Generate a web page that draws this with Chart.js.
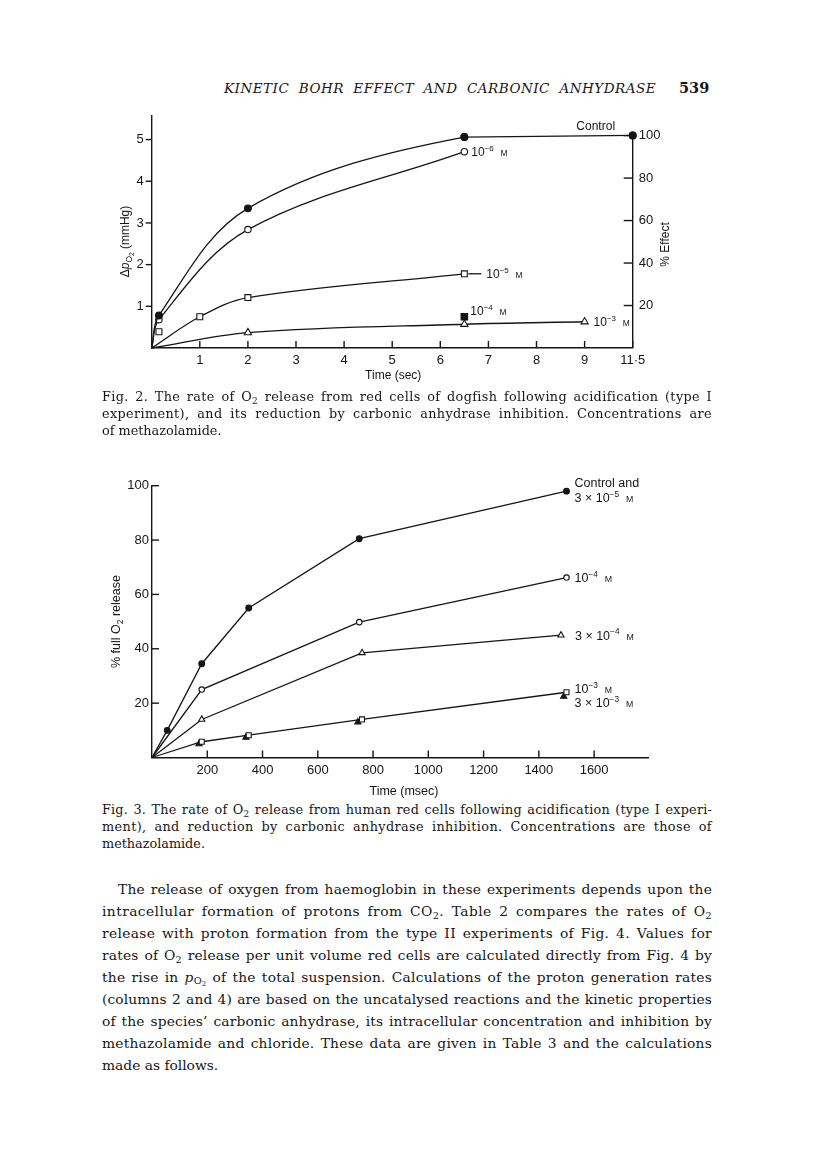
<!DOCTYPE html>
<html lang="en">
<head>
<meta charset="utf-8">
<title>Kinetic Bohr effect and carbonic anhydrase</title>
<script src="https://cdn.jsdelivr.net/npm/chart.js@4.4.1/dist/chart.umd.min.js"></script>
<style>
  html, body { margin: 0; padding: 0; background: #fff; }
  #page { position: relative; width: 816px; height: 1176px; overflow: hidden; background: #fff; color: #161616; font-family: 'DejaVu Serif', serif; }
  .ln { position: absolute; white-space: nowrap; }
  .cap { font-size: 12.8px; line-height: 16px; }
  .txt { font-size: 13.8px; line-height: 18px; }
  sub { font-size: 0.7em; line-height: 0; vertical-align: -0.28em; }
  .fig { position: absolute; }
</style>
</head>
<body>
<div id="page">
  <div class="ln" data-w="432" data-words="1" style="left:224px;top:79px;font-size:13.5px;line-height:18px;font-style:italic;letter-spacing:0.5px">KINETIC BOHR EFFECT AND CARBONIC ANHYDRASE</div>
  <div class="ln" style="left:679px;top:79px;font-size:14.5px;line-height:18px;font-weight:bold">539</div>

  <canvas class="fig" id="fig2" width="700" height="290" style="left:40px;top:100px"></canvas>

  <div class="ln cap" data-w="610" style="left:102px;top:388.5px">Fig. 2. The rate of O<sub>2</sub> release from red cells of dogfish following acidification (type I</div>
  <div class="ln cap" data-w="610" style="left:102px;top:405.5px">experiment), and its reduction by carbonic anhydrase inhibition. Concentrations are</div>
  <div class="ln cap" style="left:102px;top:422.5px">of methazolamide.</div>

  <canvas class="fig" id="fig3" width="700" height="330" style="left:40px;top:470px"></canvas>

  <div class="ln cap" data-w="610" style="left:102px;top:801.5px">Fig. 3. The rate of O<sub>2</sub> release from human red cells following acidification (type I experi-</div>
  <div class="ln cap" data-w="610" style="left:102px;top:818.5px">ment), and reduction by carbonic anhydrase inhibition. Concentrations are those of</div>
  <div class="ln cap" style="left:102px;top:835.5px">methazolamide.</div>

  <div class="ln txt" data-w="594" style="left:118px;top:879.6px">The release of oxygen from haemoglobin in these experiments depends upon the</div>
  <div class="ln txt" data-w="610" style="left:102px;top:901.6px">intracellular formation of protons from CO<sub>2</sub>. Table 2 compares the rates of O<sub>2</sub></div>
  <div class="ln txt" data-w="610" style="left:102px;top:923.6px">release with proton formation from the type II experiments of Fig. 4. Values for</div>
  <div class="ln txt" data-w="610" style="left:102px;top:945.6px">rates of O<sub>2</sub> release per unit volume red cells are calculated directly from Fig. 4 by</div>
  <div class="ln txt" data-w="610" style="left:102px;top:967.6px">the rise in <i>p</i><sub>O<sub>2</sub></sub> of the total suspension. Calculations of the proton generation rates</div>
  <div class="ln txt" data-w="610" style="left:102px;top:989.6px">(columns 2 and 4) are based on the uncatalysed reactions and the kinetic properties</div>
  <div class="ln txt" data-w="610" style="left:102px;top:1011.6px">of the species’ carbonic anhydrase, its intracellular concentration and inhibition by</div>
  <div class="ln txt" data-w="610" style="left:102px;top:1033.6px">methazolamide and chloride. These data are given in Table 3 and the calculations</div>
  <div class="ln txt" style="left:102px;top:1055.6px">made as follows.</div>
</div>

<script>
const INK = '#151515';
const SANS = "'Liberation Sans', Arial, sans-serif";

// Fig. 2 - dogfish red cells, delta pO2 (mmHg) against time (sec)
const dogTimeControl = [0, 0.15, 2, 6.5, 11.5];
const dogPO2Control = [0, 0.78, 3.35, 5.06, 5.10];
const dogTime1e6 = [0, 0.15, 2, 6.5];
const dogPO2_1e6 = [0, 0.68, 2.84, 4.71];
const dogTime1e5 = [0, 1, 2, 6.5];
const dogPO2_1e5 = [0, 0.75, 1.21, 1.78];
const dogTime1e5Early = [0.15];     // square sitting off the fitted curve
const dogPO2_1e5Early = [0.39];
const dogTime1e4 = [6.5];
const dogPO2_1e4 = [0.75];
const dogTime1e3 = [0, 2, 6.5, 9];
const dogPO2_1e3 = [0, 0.37, 0.57, 0.63];
const dogTimeTicks = [1, 2, 3, 4, 5, 6, 7, 8, 9, 11.5];
const dogTimeLabels = ['1', '2', '3', '4', '5', '6', '7', '8', '9', '11·5'];
const dogPO2Ticks = [1, 2, 3, 4, 5];
const dogEffectTicks = [20, 40, 60, 80, 100];
const dogPO2Max = 5.57;
const dogPO2AtFullEffect = 5.095; // the pO2 level that reads 100 on the % Effect axis

// Fig. 3 - human red cells, % full O2 release against time (msec)
const humTimeControl = [0, 55, 180, 350, 750, 1500];
const humRelControl = [0, 10, 34.5, 55, 80.5, 98];
const humTime1e4 = [0, 180, 750, 1500];
const humRel1e4 = [0, 25, 49.8, 66.2];
const humTime3e4 = [0, 180, 760, 1480];
const humRel3e4 = [0, 14, 38.5, 45];
const humTime1e3 = [0, 180, 350, 760, 1500];
const humRel1e3 = [0, 5.8, 8.2, 14, 24];
const humTime3e3 = [170, 340, 745, 1490];
const humRel3e3 = [5, 7.4, 13, 22.5];
const humTimeTicks = [200, 400, 600, 800, 1000, 1200, 1400, 1600];
const humRelTicks = [20, 40, 60, 80, 100];

// the dogfish time axis is broken after 9 s: 9 -> 11.5 takes one division
function brk(t) {
  return t > 9 ? 9 + (t - 9) / 2.5 : t;
}

function xy(xs, ys, fx) {
  return xs.map((x, i) => ({ x: fx ? fx(x) : x, y: ys[i] }));
}

const MARKS = {
  dot:   { style: 'circle',   r: 3.4, fill: INK },
  ring:  { style: 'circle',   r: 3.2, fill: '#fff' },
  box:   { style: 'rect',     r: 4.2, fill: '#fff' },
  block: { style: 'rect',     r: 4.6, fill: INK },
  tri:   { style: 'triangle', r: 4.2, fill: '#fff' },
  wedge: { style: 'triangle', r: 4.2, fill: INK }
};

function series(data, mark, extra, scale) {
  const m = MARKS[mark];
  const r = m.r * (scale || 1);
  return Object.assign({
    data: data,
    borderColor: INK,
    borderWidth: 1.3,
    pointStyle: m.style,
    pointBackgroundColor: m.fill,
    pointBorderColor: INK,
    pointBorderWidth: 1.1,
    pointRadius: c => (c.raw && c.raw.x === 0 ? 0 : r),
    pointHoverRadius: c => (c.raw && c.raw.x === 0 ? 0 : r),
    clip: false
  }, extra || {});
}

const smooth = { tension: 0.35 };

function axis(ticks, labels, pad, extra) {
  return Object.assign({
    type: 'linear',
    grid: { display: false, drawTicks: false },
    border: { color: INK, width: 1.4 },
    afterBuildTicks: s => { s.ticks = ticks.map(v => ({ value: v })); },
    ticks: {
      color: INK,
      font: { family: SANS, size: 13 },
      padding: pad,
      autoSkip: false,
      maxRotation: 0,
      minRotation: 0,
      callback: (v, i) => (labels ? labels[i] : String(v))
    }
  }, extra);
}

// text made of pieces: [text, size, rise, italic]; y is the middle of the main text
function rich(c, parts, x, y, align) {
  const font = p => (p[3] ? 'italic ' : '') + p[1] + 'px ' + SANS;
  let w = 0;
  parts.forEach(p => { c.font = font(p); w += c.measureText(p[0]).width; });
  let cx = align === 'center' ? x - w / 2 : align === 'right' ? x - w : x;
  const base = y + parts[0][1] * 0.36;
  c.textBaseline = 'alphabetic';
  c.textAlign = 'left';
  parts.forEach(p => {
    c.font = font(p);
    c.fillText(p[0], cx, base - (p[2] || 0));
    cx += c.measureText(p[0]).width;
  });
}

function molar(pre, exp, size) {
  const s = size || 12;
  return [[pre + '10', s], ['\u2212' + exp, s * 0.66, s * 0.42], ['  ', s], ['M', s * 0.7]];
}

function decor(cfg) {
  return {
    id: 'decor',
    afterDraw(chart) {
      const c = chart.ctx;
      const ca = chart.chartArea;
      const ref = {
        left: ca.left, right: ca.right, top: ca.top, bottom: ca.bottom,
        midx: (ca.left + ca.right) / 2, midy: (ca.top + ca.bottom) / 2
      };
      c.save();
      c.strokeStyle = INK;
      c.fillStyle = INK;
      c.lineWidth = 1.4;
      // tick marks, positive length points into the plot
      cfg.ticks.forEach(t => {
        const s = chart.scales[t.axis];
        s.ticks.forEach(tk => {
          const p = s.getPixelForValue(tk.value);
          c.beginPath();
          if (s.isHorizontal()) {
            c.moveTo(p, s.top); c.lineTo(p, s.top - t.len);
          } else if (s.position === 'left') {
            c.moveTo(s.right, p); c.lineTo(s.right + t.len, p);
          } else {
            c.moveTo(s.left, p); c.lineTo(s.left - t.len, p);
          }
          c.stroke();
        });
      });
      if (cfg.rightLine) {
        const s = chart.scales.y2;
        c.beginPath();
        c.moveTo(s.left, s.getPixelForValue(0));
        c.lineTo(s.left, s.getPixelForValue(cfg.rightLine));
        c.stroke();
      }
      c.lineWidth = 1.3;
      cfg.labels.forEach(l => {
        const pts = chart.getDatasetMeta(l.ds).data;
        const p = pts[pts.length - 1];
        if (l.lead) {
          c.beginPath(); c.moveTo(p.x + 4, p.y); c.lineTo(p.x + l.lead, p.y); c.stroke();
        }
        rich(c, l.parts, p.x + l.dx, p.y + l.dy, l.align || 'left');
      });
      cfg.titles.forEach(t => {
        const x = ref[t.x[0]] + t.x[1];
        const y = ref[t.y[0]] + t.y[1];
        if (t.rot) {
          c.save();
          c.translate(x, y);
          c.rotate(-Math.PI / 2);
          rich(c, t.parts, 0, 0, 'center');
          c.restore();
        } else {
          rich(c, t.parts, x, y, 'center');
        }
      });
      c.restore();
    }
  };
}

const common = {
  responsive: false,
  animation: false,
  events: [],
  plugins: { legend: { display: false }, tooltip: { enabled: false } }
};

// control: fitted curve up to 6.5 s, then a straight run to the 11.5 s reading
const dogControlPts = xy(dogTimeControl, dogPO2Control, brk);
const lastControl = dogControlPts.length - 1;

// Fig. 2
new Chart(document.getElementById('fig2'), {
  type: 'line',
  data: {
    datasets: [
      series(dogControlPts, 'dot', Object.assign({
        segment: { borderColor: c => (c.p1DataIndex === lastControl ? 'rgba(0,0,0,0)' : undefined) }
      }, smooth)),
      series(xy(dogTime1e6, dogPO2_1e6), 'ring', smooth),
      series(xy(dogTime1e5, dogPO2_1e5), 'box', smooth),
      series(xy(dogTime1e4, dogPO2_1e4), 'block', { showLine: false }),
      series(xy(dogTime1e3, dogPO2_1e3), 'tri', smooth),
      series(xy(dogTime1e5Early, dogPO2_1e5Early), 'box', { showLine: false }),
      series(dogControlPts.slice(lastControl - 1), 'dot', { tension: 0 })
    ]
  },
  options: Object.assign({}, common, {
    layout: { padding: { top: 12.7, left: 0, right: 0, bottom: 0 } },
    scales: {
      x: axis(dogTimeTicks.map(brk), dogTimeLabels, 5, {
        min: 0, max: brk(11.5),
        afterFit: s => { s.height = 42; }
      }),
      y: axis(dogPO2Ticks, null, 8, {
        position: 'left', min: 0, max: dogPO2Max,
        afterFit: s => { s.width = 111.7; }
      }),
      y2: axis(dogEffectTicks, null, 6, {
        position: 'right', min: 0, max: dogPO2Max / dogPO2AtFullEffect * 100,
        border: { display: false },
        afterFit: s => { s.width = 107.3; }
      })
    }
  }),
  plugins: [decor({
    ticks: [{ axis: 'x', len: 7 }, { axis: 'y', len: -6 }, { axis: 'y2', len: 9 }],
    rightLine: 100,
    labels: [
      { ds: 0, dx: -37, dy: -9.6, align: 'center', parts: [['Control', 12]] },
      { ds: 1, dx: 7, dy: 0, parts: molar('', '6') },
      { ds: 2, dx: 22, dy: 0, lead: 17, parts: molar('', '5') },
      { ds: 3, dx: 6, dy: -6, parts: molar('', '4') },
      { ds: 4, dx: 9, dy: 0, parts: molar('', '3') }
    ],
    titles: [
      { parts: [['Time (sec)', 12]], x: ['midx', 1], y: ['bottom', 27] },
      { parts: [['\u0394', 12], ['p', 12, 0, true], ['O', 8.5, -3], ['2', 6.5, -5], [' (mmHg)', 12]], x: ['left', -27], y: ['midy', 9.6], rot: true },
      { parts: [['% Effect', 12]], x: ['right', 32.3], y: ['midy', 12.6], rot: true }
    ]
  })]
});

// Fig. 3
new Chart(document.getElementById('fig3'), {
  type: 'line',
  data: {
    datasets: [
      series(xy(humTimeControl, humRelControl), 'dot', { tension: 0 }, 0.85),
      series(xy(humTime1e4, humRel1e4), 'ring', { tension: 0 }, 0.85),
      series(xy(humTime3e4, humRel3e4), 'tri', { tension: 0 }, 0.85),
      series(xy(humTime1e3, humRel1e3), 'box', { tension: 0 }, 0.85),
      series(xy(humTime3e3, humRel3e3), 'wedge', { showLine: false }, 0.85)
    ]
  },
  options: Object.assign({}, common, {
    layout: { padding: { top: 15.7, left: 0, right: 92, bottom: 0 } },
    scales: {
      x: axis(humTimeTicks, null, 5.5, {
        min: 0, max: 1795,
        afterFit: s => { s.height = 42.5; }
      }),
      y: axis(humRelTicks, null, 3, {
        position: 'left', min: 0, max: 100,
        afterFit: s => { s.width = 112; }
      })
    }
  }),
  plugins: [decor({
    ticks: [{ axis: 'x', len: 7 }, { axis: 'y', len: 7 }],
    labels: [
      { ds: 0, dx: 8, dy: -9, parts: [['Control and', 12.5]] },
      { ds: 0, dx: 8, dy: 6.2, parts: molar('3 \u00d7 ', '5', 12.5) },
      { ds: 1, dx: 8, dy: 0, parts: molar('', '4', 12.5) },
      { ds: 2, dx: 14, dy: 0, parts: molar('3 \u00d7 ', '4', 12.5) },
      { ds: 3, dx: 8, dy: -4, parts: molar('', '3', 12.5) },
      { ds: 3, dx: 8, dy: 10, parts: molar('3 \u00d7 ', '3', 12.5) }
    ],
    titles: [
      { parts: [['Time (msec)', 12.5]], x: ['midx', 4], y: ['bottom', 32.5] },
      { parts: [['% full O', 12.5], ['2', 8.5, -3], [' release', 12.5]], x: ['left', -37], y: ['midy', 0], rot: true }
    ]
  })]
});

// stretch the justified text lines to the column width:
// half of the slack goes between letters, the rest between words
document.querySelectorAll('.ln[data-w]').forEach(el => {
  const target = +el.dataset.w;
  const gaps = (el.textContent.match(/ /g) || []).length;
  if (!gaps) return;
  if (!el.dataset.words) {
    const slack = target - el.getBoundingClientRect().width;
    if (slack > 0) el.style.letterSpacing = (slack * 0.5 / el.textContent.length) + 'px';
  }
  const w = el.getBoundingClientRect().width;
  el.style.wordSpacing = ((target - w) / gaps) + 'px';
});
</script>
</body>
</html>
